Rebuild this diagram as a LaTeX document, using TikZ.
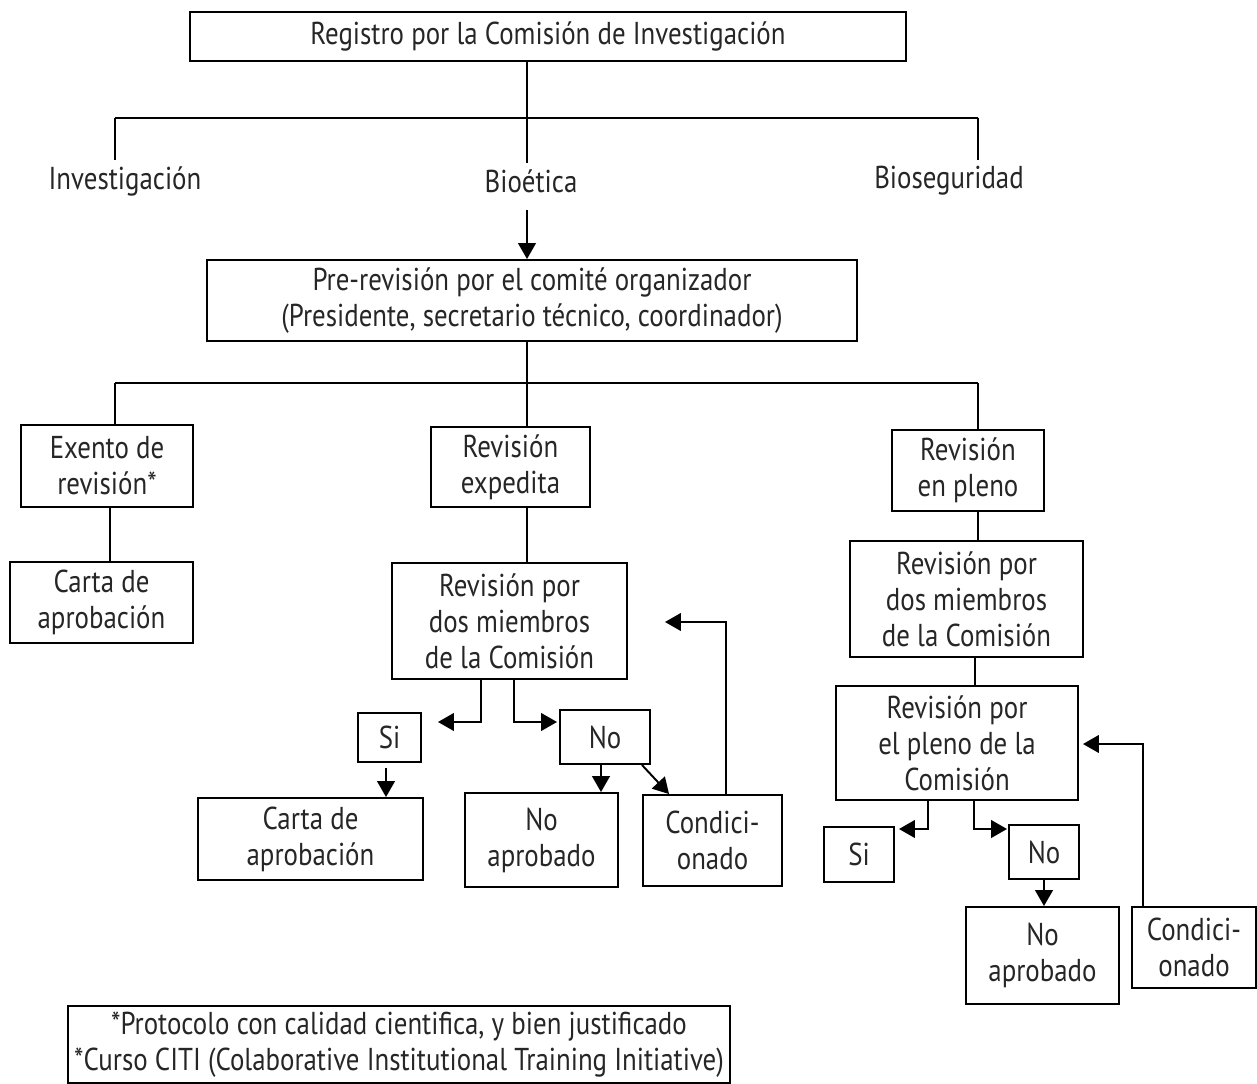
\documentclass[tikz,border=0pt]{standalone}
\usepackage{fontspec}
\setmainfont{PT Sans}[FakeStretch=0.85]
\usetikzlibrary{arrows.meta}
\begin{document}
\begin{tikzpicture}[x=0.02cm,y=-0.02cm,
  every node/.style={font=\fontsize{18}{20.4}\selectfont, text=black!85, align=center, inner sep=0pt},
  box/.style={draw=black, line width=1.1pt, text=black!85},
  ln/.style={line width=1.1pt, draw=black},
  arr/.style={ln, -{Triangle[length=9pt,width=10pt]}}]
\useasboundingbox (0,0) rectangle (1257,1084);
% top
\node[box, minimum width=14.32cm, minimum height=0.98cm] (top) at (548,36.5) {Registro por la Comisión de Investigación};
\node (inv) at (125,181) {Investigación};
\node (bio) at (531,181) {Bioética};
\node (bios) at (949,181) {Bioseguridad};
\coordinate (j1) at (527,118);
\coordinate (cL) at (115,118);
\coordinate (cR) at (978,118);
\draw[ln] (top.south -| j1) -- (j1);
\draw[ln] (cL) -- (cR);
\draw[ln] (cL) -- ([yshift=0.12cm]cL |- inv.north);
\draw[ln] (j1) -- ([yshift=0.12cm]j1 |- bio.north);
\draw[ln] (cR) -- ([yshift=0.12cm]cR |- bios.north);
% pre-revision
\node[box, minimum width=13.0cm, minimum height=1.62cm] (pre) at (532,300.5) {Pre-revisión por el comité organizador\\(Presidente, secretario técnico, coordinador)};
\draw[arr] ([xshift=-0.08cm,yshift=-0.35cm]bio.south) -- ([xshift=-0.08cm]bio.south |- pre.north);
\coordinate (j2) at (527,383);
\coordinate (cL2) at (115,383);
\coordinate (cR2) at (978,383);
\draw[ln] (pre.south -| j2) -- (j2);
\draw[ln] (cL2) -- (cR2);
% left column
\node[box, minimum width=3.44cm, minimum height=1.64cm] (exento) at (107,466) {Exento de\\revisión*};
\node[box, minimum width=3.66cm, minimum height=1.62cm] (cartaL) at (101.5,602.5) {Carta de\\aprobación};
\draw[ln] (cL2) -- (cL2 |- exento.north);
\draw[ln] ([xshift=0.06cm]exento.south) -- ([xshift=0.06cm]exento.south |- cartaL.north);
% middle column
\node[box, minimum width=3.18cm, minimum height=1.6cm] (exped) at (510.5,467) {Revisión\\expedita};
\node[box, minimum width=4.7cm, minimum height=2.32cm] (dosL) at (509.5,621) {Revisión por\\dos miembros\\de la Comisión};
\node[box, minimum width=1.26cm, minimum height=0.98cm] (siL) at (389.5,737.5) {Si};
\node[box, minimum width=1.8cm, minimum height=1.08cm] (noL) at (605,737) {No};
\node[box, minimum width=4.5cm, minimum height=1.64cm] (cartaM) at (310.5,839) {Carta de\\aprobación};
\node[box, minimum width=3.06cm, minimum height=1.88cm] (noapL) at (541.5,840) {No\\aprobado};
\node[box, minimum width=2.78cm, minimum height=1.82cm] (condL) at (712.5,840.5) {Condici-\\onado};
\draw[ln] (j2) -- (j2 |- exped.north);
\draw[ln] ([xshift=0.33cm]exped.south) -- ([xshift=0.33cm]exped.south |- dosL.north);
\coordinate (tSiL) at (438,722);
\coordinate (tNoL) at (557,722);
\coordinate (tCondL) at (665,622);
\draw[arr] ([xshift=-0.57cm]dosL.south) |- (tSiL);
\draw[arr] ([xshift=0.09cm]dosL.south) |- (tNoL);
\draw[arr] ([xshift=-0.07cm,yshift=-0.1cm]siL.south) -- ([xshift=-0.07cm]siL.south |- cartaM.north);
\draw[arr] ([xshift=-0.08cm]noL.south) -- ([xshift=-0.08cm]noL.south |- noapL.north);
\draw[arr] ([xshift=-0.18cm]noL.south east) -- ([xshift=0.54cm]condL.north west);
\draw[arr] ([xshift=0.27cm]condL.north) |- (tCondL);
% right column
\node[box, minimum width=3.04cm, minimum height=1.62cm] (pleno) at (968,470.5) {Revisión\\en pleno};
\node[box, minimum width=4.66cm, minimum height=2.32cm] (dosR) at (966.5,599) {Revisión por\\dos miembros\\de la Comisión};
\node[box, minimum width=4.84cm, minimum height=2.28cm] (plenoR) at (957,743) {Revisión por\\el pleno de la\\Comisión};
\node[box, minimum width=1.4cm, minimum height=1.1cm] (siR) at (859,854.5) {Si};
\node[box, minimum width=1.4cm, minimum height=1.08cm] (noR) at (1044,852) {No};
\node[box, minimum width=3.06cm, minimum height=1.94cm] (noapR) at (1042.5,955.5) {No\\aprobado};
\node[box, minimum width=2.48cm, minimum height=1.62cm] (condR) at (1194,947.5) {Condici-\\onado};
\draw[ln] (cR2) -- (cR2 |- pleno.north);
\draw[ln] ([xshift=0.2cm]pleno.south) -- ([xshift=0.2cm]pleno.south |- dosR.north);
\draw[ln] ([xshift=0.17cm]dosR.south) -- ([xshift=0.17cm]dosR.south |- plenoR.north);
\coordinate (tSiR) at (899,829);
\coordinate (tNoR) at (1007,829);
\coordinate (tCondR) at (1083,744);
\draw[arr] ([xshift=-0.58cm]plenoR.south) |- (tSiR);
\draw[arr] ([xshift=0.34cm]plenoR.south) |- (tNoR);
\draw[arr] (noR.south) -- (noR.south |- noapR.north);
\draw[arr] ([xshift=-1.02cm]condR.north) |- (tCondR);
% note
\node[box, minimum width=13.24cm, minimum height=1.54cm] (note) at (399,1044.5) {*Protocolo con calidad cientifica, y bien justificado\\*Curso CITI (Colaborative Institutional Training Initiative)};
\end{tikzpicture}
\end{document}
